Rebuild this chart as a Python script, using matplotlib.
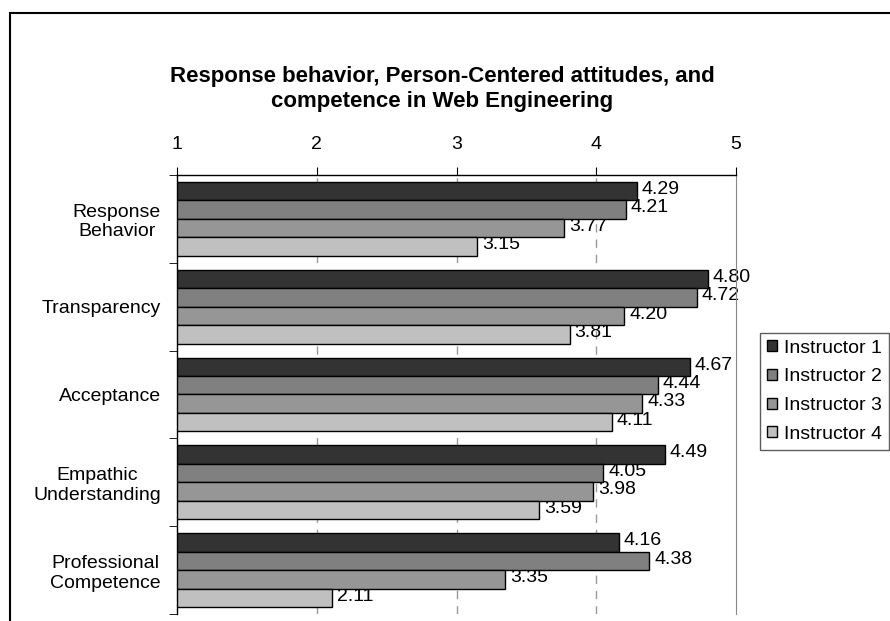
import numpy as np
import matplotlib.pyplot as plt
from matplotlib.patches import Rectangle

plt.rcParams['font.family'] = ['Liberation Sans', 'DejaVu Sans']

categories = ['Response\nBehavior', 'Transparency', 'Acceptance',
              'Empathic\nUnderstanding', 'Professional\nCompetence']
instructors = ['Instructor 1', 'Instructor 2', 'Instructor 3', 'Instructor 4']
inst1 = [4.29, 4.80, 4.67, 4.49, 4.16]
inst2 = [4.21, 4.72, 4.44, 4.05, 4.38]
inst3 = [3.77, 4.20, 4.33, 3.98, 3.35]
inst4 = [3.15, 3.81, 4.11, 3.59, 2.11]
colors = ['#333333', '#808080', '#969696', '#c0c0c0']

FS = 14

fig = plt.figure(figsize=(8.9, 6.21), dpi=100)
ax = fig.add_axes([177/890, 1-614/621, (736-177)/890, (614-175)/621])

bh = 0.21
y = np.arange(len(categories))
series = [inst1, inst2, inst3, inst4]
for k, vals in enumerate(series):
    pos = y - 1.5*bh + k*bh
    w = np.array(vals) - 1
    ax.barh(pos, w, left=1, height=bh, color=colors[k], edgecolor='black',
            linewidth=1.0, label=instructors[k], zorder=3)
    # value labels sit under the bars, so the next bar may cover their top
    for p, v in zip(pos, vals):
        ax.text(v + 0.035, p - 0.02, '%.2f' % v, va='center', ha='left',
                fontsize=FS, zorder=2)

ax.set_xlim(1, 5)
ax.set_ylim(len(categories)-0.5, -0.5)
ax.xaxis.tick_top()
ax.set_xticks([1, 2, 3, 4, 5])
ax.tick_params(axis='x', direction='out', length=6, pad=10, labelsize=FS,
               color='black')
ax.set_yticks(y)
ax.set_yticklabels(categories, fontsize=FS)
for lab in ax.get_yticklabels():
    lab.set_multialignment('center')
ax.tick_params(axis='y', which='major', length=0, pad=11.5)
ax.set_yticks(np.arange(len(categories)+1) - 0.5, minor=True)
ax.tick_params(axis='y', which='minor', length=6, direction='out')

for xv in [2, 3, 4]:
    ax.axvline(xv, color='#999999', linestyle=(0, (6, 5)), linewidth=1.0, zorder=1)

ax.spines['bottom'].set_visible(False)
ax.spines['right'].set_color('#888888')
ax.spines['top'].set_linewidth(1.0)
ax.spines['left'].set_linewidth(1.0)

fig.text(0.497, 1-89/621, 'Response behavior, Person-Centered attitudes, and\ncompetence in Web Engineering',
         ha='center', va='center', fontsize=16, fontweight='bold', linespacing=1.3)

leg = fig.legend(loc='upper left', bbox_to_anchor=(760/890, 1-333/621),
                 fontsize=FS, frameon=True, fancybox=False, edgecolor='#333333',
                 handlelength=0.5, handleheight=0.5, handletextpad=0.4,
                 labelspacing=0.6, borderpad=0.35, borderaxespad=0)
leg.get_frame().set_linewidth(1.0)

fig.patches.append(Rectangle((10/890, -0.1), 1.2, 1-13/621+0.1, transform=fig.transFigure,
                             fill=False, edgecolor='black', linewidth=1.5))

fig.savefig('out.png', dpi=100)
